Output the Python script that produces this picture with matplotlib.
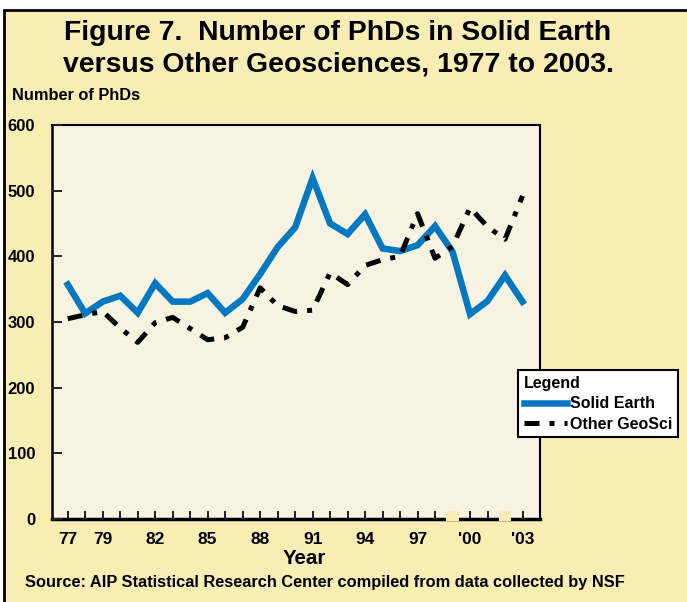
#Figure 7 - PhDs in solid earth vs other geosciences

import matplotlib
matplotlib.use('Agg')
import numpy as np
import matplotlib.pyplot as plt
from matplotlib.patches import Rectangle
import matplotlib.transforms as mtransforms

plt.rcParams['font.family'] = ['Liberation Sans', 'DejaVu Sans']
plt.rcParams['font.weight'] = 'bold'
# ticks pointing into the plot
plt.rcParams['xtick.direction'] = 'in'
plt.rcParams['ytick.direction'] = 'in'
plt.rcParams['xtick.major.size'] = 6
plt.rcParams['xtick.minor.size'] = 6
plt.rcParams['ytick.major.size'] = 7
plt.rcParams['xtick.major.width'] = 1.4
plt.rcParams['xtick.minor.width'] = 1.4
plt.rcParams['ytick.major.width'] = 1.4
plt.rcParams['xtick.color'] = '#222222'
plt.rcParams['ytick.color'] = '#222222'
plt.rcParams['xtick.labelcolor'] = 'black'
plt.rcParams['ytick.labelcolor'] = 'black'

years = list(range(1977, 2004))
solid_earth = [357, 313, 331, 340, 314, 359, 331, 331, 344, 314, 335, 373, 414, 444,
               519, 450, 434, 464, 412, 408, 417, 446, 407, 312, 332, 371, 331]
other_geosci = [305, 311, 316, 291, 269, 299, 307, 290, 273, 276, 292, 352, 325, 316,
                318, 375, 357, 386, 395, 400, 465, 397, 415, 474, 445, 426, 492]

tick_years = [1977, 1979, 1982, 1985, 1988, 1991, 1994, 1997, 2000, 2003]
tick_labels = ['77', '79', '82', '85', '88', '91', '94', '97', "'00", "'03"]
y_ticks = [0, 100, 200, 300, 400, 500, 600]

outer = '#f8eeb3'
inner = '#f8f3e1'
blue = '#0079c2'

W, H = 687, 602
fig = plt.figure(figsize=(W / 100, H / 100), dpi=100)
fig.patch.set_facecolor('white')

# yellow panel with black frame (top and left visible)
fig.patches.append(Rectangle((4 / W, -0.05), 1.1, 1 - 10 / H + 0.05,
                             transform=fig.transFigure, facecolor=outer,
                             edgecolor='black', linewidth=2, zorder=-10))

ax = fig.add_axes([52 / W, 1 - 519 / H, (540 - 52) / W, (519 - 125) / H])
ax.set_facecolor(inner)
ax.set_axisbelow(False)

ax.plot(years, solid_earth, color=blue, linewidth=4.7, solid_joinstyle='miter',
        label='Solid Earth', zorder=3)
ax.plot(years, other_geosci, color='black', linewidth=3.6, linestyle=(0, (3, 2, 1, 2)),
        dash_capstyle='butt', label='Other GeoSci', zorder=4)

ax.set_xlim(1976.1, 2004.0)
ax.set_ylim(0, 600)

ax.set_xticks(years, minor=True)
ax.set_xticks(tick_years)
ax.set_xticklabels(tick_labels)
ax.set_yticks(y_ticks)
ax.tick_params(axis='x', which='both', pad=9, labelsize=12.5)
ax.tick_params(axis='y', pad=12, labelsize=12)
for lab in ax.get_xticklabels() + ax.get_yticklabels():
    lab.set_fontweight('bold')

for side in ['top', 'right']:
    ax.spines[side].set_linewidth(1.5)
ax.spines['left'].set_linewidth(1.8)
ax.spines['bottom'].set_linewidth(2.5)

# small yellow blobs covering the axis at 1999 and 2002
trans = mtransforms.blended_transform_factory(ax.transData, ax.transAxes)
for yr in [1999, 2002]:
    ax.add_patch(Rectangle((yr - 0.35, -0.006), 0.7, 0.026, transform=trans,
                           facecolor=outer, edgecolor='none', clip_on=False, zorder=10))

fig.text(338 / W, 1 - 49 / H,
         'Figure 7.  Number of PhDs in Solid Earth\nversus Other Geosciences, 1977 to 2003.',
         ha='center', va='center', fontsize=20.4, fontweight='bold', linespacing=1.3)
fig.text(12 / W, 1 - 96 / H, 'Number of PhDs', ha='left', va='center',
         fontsize=11.8, fontweight='bold')
fig.text(304 / W, 1 - 558 / H, 'Year', ha='center', va='center',
         fontsize=14.8, fontweight='bold')
fig.text(25 / W, 1 - 583 / H,
         'Source: AIP Statistical Research Center compiled from data collected by NSF',
         ha='left', va='center', fontsize=11.8, fontweight='bold')

leg = fig.legend(loc='upper left', bbox_to_anchor=(518 / W, 1 - 370 / H),
                 borderaxespad=0, title='Legend', alignment='left', fontsize=11.5,
                 title_fontproperties={'weight': 'bold', 'size': 11.5},
                 handlelength=2.7, handletextpad=0.2, borderpad=0.35,
                 labelspacing=0.35, fancybox=False, framealpha=1,
                 facecolor='white', edgecolor='black')
leg.get_frame().set_linewidth(1.5)
for t in leg.get_texts():
    t.set_fontweight('bold')

plt.savefig('out.png', dpi=100)
